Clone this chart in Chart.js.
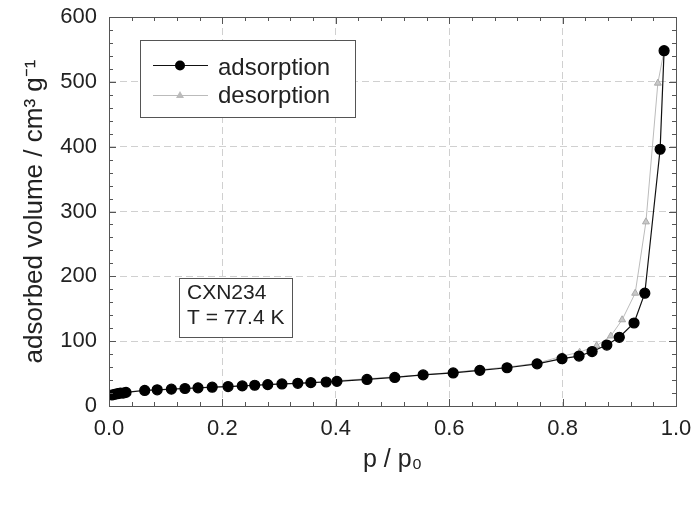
<!DOCTYPE html>
<html>
<head>
<meta charset="utf-8">
<script src="https://cdn.jsdelivr.net/npm/chart.js@4.4.1/dist/chart.umd.min.js"></script>
<style>
  html, body { margin: 0; padding: 0; background: #fff; }
  #wrap { width: 694px; height: 506px; }
</style>
</head>
<body>
<div id="wrap"><canvas id="iso"></canvas></div>
<script>
// Isotherm data
const adsP = [0.005, 0.01, 0.015, 0.02, 0.025, 0.03, 0.063, 0.085, 0.11, 0.134, 0.157, 0.182, 0.21, 0.235, 0.257, 0.28, 0.305, 0.333, 0.356, 0.383, 0.402, 0.455, 0.504, 0.554, 0.607, 0.654, 0.702, 0.755, 0.799, 0.829, 0.852, 0.878, 0.9, 0.926, 0.945, 0.972, 0.979];
const adsV = [17, 18, 19, 20, 20, 21, 24, 25, 26, 27, 28, 29, 30, 31, 32, 33, 34, 35, 36, 37, 38, 41, 44, 48, 51, 55, 59, 65, 73, 77, 84, 94, 106, 128, 174, 396, 548];

const desP = [0.979, 0.968, 0.947, 0.928, 0.905, 0.885, 0.86, 0.83, 0.80, 0.755, 0.702, 0.654, 0.607, 0.554, 0.504, 0.455, 0.402, 0.356, 0.305, 0.257, 0.21, 0.157, 0.11, 0.063];
const desV = [548, 498, 284, 174, 133, 108, 93, 83, 77, 66, 60, 56, 52, 48, 45, 42, 39, 36, 34, 32, 30, 28, 26, 24];

const xTicks = [0, 0.2, 0.4, 0.6, 0.8, 1.0];
const yTicks = [0, 100, 200, 300, 400, 500, 600];
const seriesNames = ["adsorption", "desorption"];
const sampleLines = ["CXN234", "T = 77.4 K"];

const FONT = "'Liberation Sans', Arial, sans-serif";

function toPoints(xs, ys) {
    return xs.map((x, i) => ({ x: x, y: ys[i] }));
}

// frame, inward ticks, legend and sample box
const decorations = {
    id: "decorations",
    afterDraw(chart) {
        const ctx = chart.ctx;
        const a = chart.chartArea;
        const sx = chart.scales.x;
        const sy = chart.scales.y;
        ctx.save();
        ctx.strokeStyle = "#555";
        ctx.lineWidth = 1;
        ctx.strokeRect(a.left + 0.5, a.top + 0.5, a.right - a.left, a.bottom - a.top);

        ctx.beginPath();
        for (let i = 0; i <= 25; i++) {
            const px = Math.round(sx.getPixelForValue(i * 0.04)) + 0.5;
            const len = (i % 5 === 0) ? 7 : 4;
            ctx.moveTo(px, a.bottom); ctx.lineTo(px, a.bottom - len);
            ctx.moveTo(px, a.top); ctx.lineTo(px, a.top + len);
        }
        for (let i = 0; i <= 30; i++) {
            const py = Math.round(sy.getPixelForValue(i * 20)) + 0.5;
            const len = (i % 5 === 0) ? 7 : 4;
            ctx.moveTo(a.left, py); ctx.lineTo(a.left + len, py);
            ctx.moveTo(a.right, py); ctx.lineTo(a.right - len, py);
        }
        ctx.stroke();

        // legend
        ctx.fillStyle = "#fff";
        ctx.fillRect(140, 40, 215, 77);
        ctx.strokeStyle = "#555";
        ctx.strokeRect(140.5, 40.5, 215, 77);
        ctx.strokeStyle = "#111";
        ctx.beginPath(); ctx.moveTo(153, 65.5); ctx.lineTo(208, 65.5); ctx.stroke();
        ctx.fillStyle = "#000";
        ctx.beginPath(); ctx.arc(180, 65.5, 5, 0, Math.PI * 2); ctx.fill();
        ctx.strokeStyle = "#bbb";
        ctx.beginPath(); ctx.moveTo(153, 95.5); ctx.lineTo(208, 95.5); ctx.stroke();
        ctx.fillStyle = "#bbb";
        ctx.beginPath(); ctx.moveTo(180, 91); ctx.lineTo(184, 98); ctx.lineTo(176, 98); ctx.closePath(); ctx.fill();
        ctx.font = "24px " + FONT;
        ctx.textBaseline = "alphabetic";
        ctx.fillStyle = "#222";
        ctx.fillText(seriesNames[0], 218, 75);
        ctx.fillText(seriesNames[1], 218, 103);

        // sample box
        ctx.fillStyle = "#fff";
        ctx.fillRect(179, 278, 113, 59);
        ctx.strokeStyle = "#555";
        ctx.strokeRect(179.5, 278.5, 113, 59);
        ctx.fillStyle = "#222";
        ctx.font = "21px " + FONT;
        ctx.fillText(sampleLines[0], 187, 299);
        ctx.fillText(sampleLines[1], 187, 324);
        ctx.restore();
    }
};

new Chart(document.getElementById("iso"), {
    type: "scatter",
    data: {
        datasets: [
            {
                label: seriesNames[0],
                data: toPoints(adsP, adsV),
                showLine: true,
                borderColor: "#111",
                borderWidth: 1.2,
                backgroundColor: "#000",
                pointBackgroundColor: "#000",
                pointBorderColor: "#000",
                pointRadius: 5,
                pointStyle: "circle",
                tension: 0
            },
            {
                label: seriesNames[1],
                data: toPoints(desP, desV),
                showLine: true,
                borderColor: "#bbb",
                borderWidth: 1,
                backgroundColor: "#c8c8c8",
                pointBackgroundColor: "#c8c8c8",
                pointBorderColor: "#aaa",
                pointRadius: 4,
                pointStyle: "triangle",
                tension: 0
            }
        ]
    },
    options: {
        responsive: true,
        maintainAspectRatio: false,
        animation: false,
        layout: { padding: { left: 0, right: 18, top: 17, bottom: 0 } },
        plugins: {
            legend: { display: false },
            tooltip: { enabled: false }
        },
        scales: {
            x: {
                type: "linear",
                min: 0,
                max: 1,
                afterBuildTicks: (s) => { s.ticks = xTicks.map((v) => ({ value: v })); },
                afterFit: (s) => { s.height = 100; s.paddingLeft = 0; s.paddingRight = 0; },
                ticks: {
                    callback: (v) => v.toFixed(1),
                    font: { family: FONT, size: 22 },
                    color: "#222",
                    padding: 10
                },
                grid: { color: "#d0d0d0", drawTicks: false },
                border: { display: false, dash: [7, 4] },
                title: {
                    display: true,
                    text: "p / p\u2080",
                    font: { family: FONT, size: 25 },
                    color: "#222",
                    padding: { top: 0, bottom: 31 }
                }
            },
            y: {
                type: "linear",
                min: 0,
                max: 600,
                afterBuildTicks: (s) => { s.ticks = yTicks.map((v) => ({ value: v })); },
                afterFit: (s) => { s.width = 109; s.paddingTop = 0; s.paddingBottom = 0; },
                ticks: {
                    font: { family: FONT, size: 22 },
                    color: "#222",
                    padding: 12
                },
                grid: { color: "#d0d0d0", drawTicks: false },
                border: { display: false, dash: [7, 4] },
                title: {
                    display: true,
                    text: "adsorbed volume / cm\u00b3 g\u207b\u00b9",
                    font: { family: FONT, size: 26 },
                    color: "#222",
                    padding: { top: 19, bottom: 0 }
                }
            }
        }
    },
    plugins: [decorations]
});
</script>
</body>
</html>
